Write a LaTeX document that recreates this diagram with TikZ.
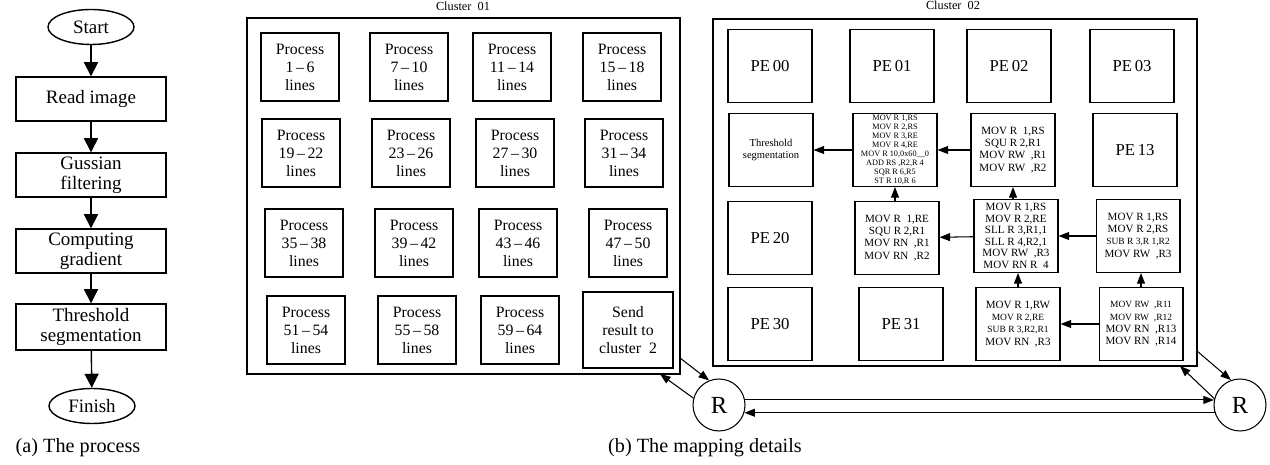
\documentclass[tikz,border=0pt]{standalone}
\usepackage{fontspec}
\setmainfont{Liberation Serif}
\usetikzlibrary{arrows.meta,shapes.geometric}

\newcommand{\movfont}{\fontsize{6.3}{7}\selectfont}
\newcommand{\movsmall}{\fontsize{5.4}{7}\selectfont}

\begin{document}
\begin{tikzpicture}[x=0.02cm, y=-0.02cm,
    flowbox/.style={draw, thick, minimum width=3cm, minimum height=0.88cm, align=center,
        font=\fontsize{10.8}{11.2}\selectfont, inner sep=1pt},
    flowend/.style={draw, thick, ellipse, minimum width=1.72cm, minimum height=0.7cm,
        font=\fontsize{10.8}{11.2}\selectfont, inner sep=0pt},
    flowarr/.style={thick, -{Triangle[length=8pt, width=8pt]}},
    procbox/.style={draw, thick, minimum width=1.56cm, minimum height=1.36cm, align=center,
        font=\fontsize{9}{10.2}\selectfont, inner sep=1pt},
    pebox/.style={draw, semithick, minimum width=1.68cm, minimum height=1.46cm, align=center,
        inner sep=0.5pt, font=\movfont},
    cluster/.style={draw, thick},
    arr/.style={semithick, -{Triangle[length=6pt, width=4.5pt]}},
    rnode/.style={draw, semithick, circle, minimum size=1.04cm, inner sep=0pt,
        font=\fontsize{14}{15}\selectfont}]
    \useasboundingbox (0,0) rectangle (1270,465);

    % (a) the process
    \node[flowend] (start) at (91,27) {Start};
    \node[flowbox] (read) at (91,99) {Read image};
    \node[flowbox] (gauss) at (91,175) {Gussian\\filtering};
    \node[flowbox] (grad) at (91,251) {Computing\\gradient};
    \node[flowbox, minimum height=0.92cm] (thresh) at (91,327) {Threshold\\segmentation};
    \node[flowend] (finish) at (92,406) {Finish};
    \draw[flowarr] (start) -- (read);
    \draw[flowarr] (read) -- (gauss);
    \draw[flowarr] (gauss) -- (grad);
    \draw[flowarr] (grad) -- (thresh);
    \draw[flowarr] (thresh) -- (finish);
    \node[font=\fontsize{11.5}{13}\selectfont] (capa) at (78,448) {(a) The process};

    % (b) cluster 01
    \node[cluster, minimum width=8.66cm, minimum height=7.12cm] (cl1) at (463.5,196) {};
    \node[font=\fontsize{7}{8}\selectfont] (lab1) at (463,6) {Cluster\ \ 01};
    \foreach \x/\y/\lo/\hi [count=\i] in {
        300/67/1/6, 409/67/7/10, 512/67/11/14, 622/67/15/18,
        301/153/19/22, 411/153/23/26, 515/153/27/30, 624/153/31/34,
        304/243/35/38, 414/243/39/42, 518/243/43/46, 628/243/47/50,
        306/330/51/54, 417/330/55/58, 520/330/59/64}
        \node[procbox] (proc\i) at (\x,\y) {Process\\\lo\,--\,\hi\\lines};
    \node[procbox, minimum width=1.8cm, minimum height=1.52cm] (send) at (628,330)
        {Send\\result to\\cluster\ \ 2};

    % (b) cluster 02
    \node[cluster, minimum width=9.68cm, minimum height=6.94cm] (cl2) at (955,192.5) {};
    \node[font=\fontsize{7}{8}\selectfont] (lab2) at (953,5) {Cluster\ \ 02};
    \foreach \n/\x/\y in {00/770/66, 01/892/66, 02/1009/66, 03/1132/66,
        13/1135/150, 20/770/238, 30/770/324, 31/901/324}
        \node[pebox, font=\fontsize{9.5}{11}\selectfont] (pe\n) at (\x,\y) {PE\,\n};
    \node[pebox, font=\fontsize{6}{7}\selectfont] (pe10) at (771,150) {Threshold\\segmentation};
    \node[pebox, font=\fontsize{4.7}{5.1}\selectfont] (pe11) at (895,150)
        {MOV R 1,RS\\MOV R 2,RS\\MOV R 3,RE\\MOV R 4,RE\\MOV R 10,0x60\_\_0\\
         ADD RS\ ,R2,R 4\\SQR R 6,R5\\ST R 10,R 6};
    \node[pebox] (pe12) at (1013,150)
        {MOV R\ \ 1,RS\\SQU R 2,R1\\MOV RW\ \ ,R1\\MOV RW\ \ ,R2};
    \node[pebox] (pe21) at (897,238)
        {MOV R\ \ 1,RE\\SQU R 2,R1\\MOV RN\ \ ,R1\\MOV RN\ \ ,R2};
    \node[pebox, font=\fontsize{6.3}{6.6}\selectfont] (pe22) at (1016,236)
        {MOV R 1,RS\\MOV R\ 2,RE\\SLL R 3,R1,1\\SLL R 4,R2,1\\MOV RW\ \ ,R3\\MOV RN R\ \ 4};
    \node[pebox] (pe23) at (1138,236)
        {MOV R 1,RS\\MOV R 2,RS\\{\movsmall SUB R\ 3,R 1,R2}\\MOV RW\ \ ,R3};
    \node[pebox] (pe32) at (1018,324)
        {MOV R 1,RW\\{\movsmall MOV R\ 2,RE}\\{\movsmall SUB R\ 3,R2,R1}\\MOV RN\ \ ,R3};
    \node[pebox] (pe33) at (1141,324)
        {{\movsmall MOV RW\ \ ,R11}\\{\movsmall MOV RW\ \ ,R12}\\MOV RN\ \ ,R13\\MOV RN\ \ ,R14};

    \draw[arr] (pe11) -- (pe10);
    \draw[arr] (pe12) -- (pe11);
    \draw[arr] (pe21.north -| pe11.south) -- (pe11.south);
    \draw[arr] (pe22) -- (pe21);
    \draw[arr] (pe22.north -| pe12.south) -- (pe12.south);
    \draw[arr] (pe23) -- (pe22);
    \draw[arr] (pe32.north) -- (pe22.south -| pe32.north);
    \draw[arr] (pe33) -- (pe32);
    \draw[arr] (pe33.north) -- (pe23.south -| pe33.north);

    % routers
    \node[rnode] (r1) at (719,405) {R};
    \node[rnode] (r2) at (1240,405) {R};
    \coordinate (c1out) at (680,358); \coordinate (c1in) at (660,374);
    \coordinate (c2out) at (1197,351); \coordinate (c2in) at (1180,366);
    \draw[arr] (c1out) -- (r1.112);
    \draw[arr] (r1.165) -- (c1in);
    \draw[arr] (c2out) -- (r2.110);
    \draw[arr] (r2.166) -- (c2in);
    \draw[arr] (r1.11) -- (r2.169);
    \draw[arr] (r2.197) -- (r1.-17);
    \node[font=\fontsize{11.5}{13}\selectfont] (capb) at (705,448) {(b) The mapping details};
\end{tikzpicture}
\end{document}
